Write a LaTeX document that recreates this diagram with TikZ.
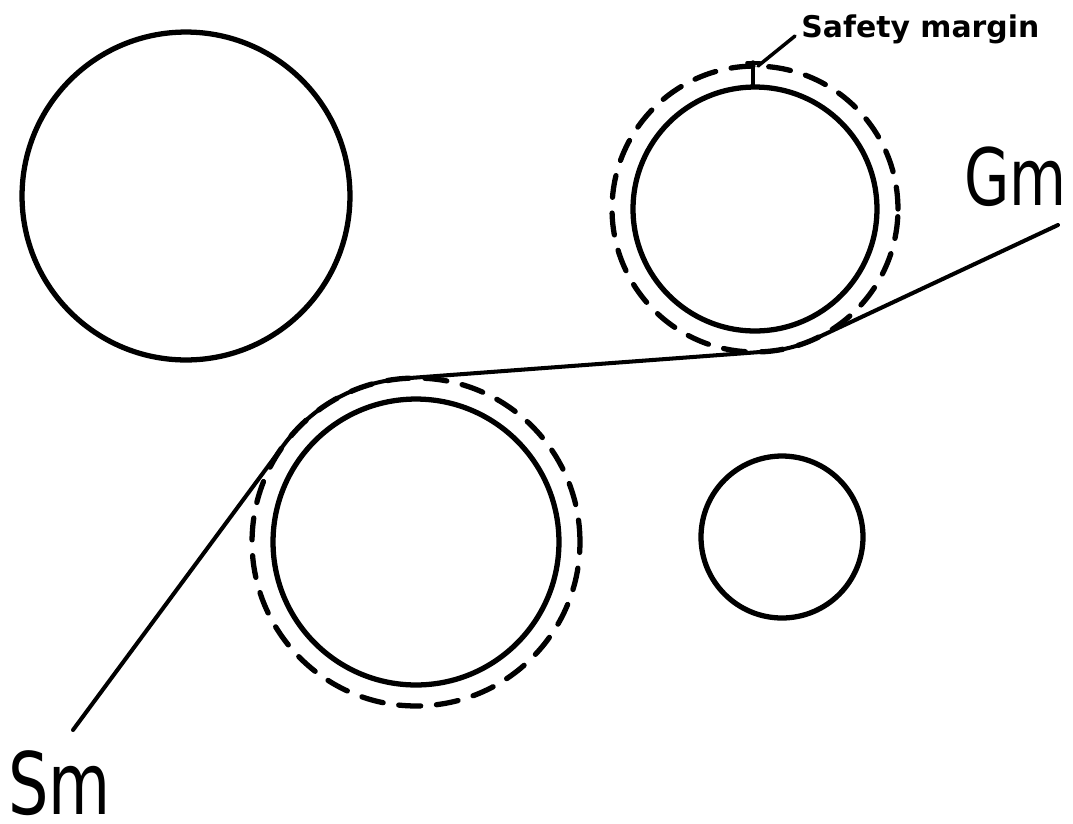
\documentclass[tikz,border=0pt]{standalone}
\usepackage{fontspec}
\newfontfamily\plotfont[FakeStretch=0.74]{DejaVu Sans}
\newfontfamily\labelfont{DejaVu Sans}
\tikzset{
  solidcirc/.style={line width=3pt},
  dashcirc/.style={line width=3pt, dash pattern=on 12.5pt off 9pt, line cap=round},
  belt/.style={line width=2.3pt, line cap=round, line join=round},
  leader/.style={line width=2pt, line cap=round},
  bigtext/.style={inner sep=0pt, anchor=base west},
}
\begin{document}
\begin{tikzpicture}[x=0.02cm, y=0.02cm]
\useasboundingbox (0,0) rectangle (1073,-823);
% circle centres
\coordinate (cTL) at (186,-196);
\coordinate (cTR) at (755,-209);
\coordinate (cBL) at (416,-542);
\coordinate (cSM) at (782,-537);
% circles
\draw[solidcirc] (cTL) circle[radius=3.28cm];
\draw[solidcirc] (cTR) circle[radius=2.44cm];
\draw[dashcirc]  (cTR) circle[radius=2.86cm];
\draw[solidcirc] (cBL) circle[radius=2.86cm];
\draw[dashcirc]  (cBL) circle[radius=3.28cm];
\draw[solidcirc] (cSM) circle[radius=1.62cm];
% path points
\coordinate (sm) at (73,-730);
\coordinate (t1) at (284.1,-444.5);
\coordinate (t3) at (765.6,-351.6);
\coordinate (gm) at (1058,-225);
\draw[belt] (sm) -- (t1) arc[start angle=143.53, end angle=94.24, radius=3.28cm]
  -- (t3) arc[start angle=-85.76, end angle=-64.9, radius=2.86cm] -- (gm);
% labels
\node[bigtext] (smlabel) at (8,-814) {\plotfont\fontsize{49}{49}\selectfont Sm};
\node[bigtext] (gmlabel) at (964,-205) {\plotfont\fontsize{45}{45}\selectfont Gm};
\node[inner sep=0pt, anchor=base west] (safety) at (801,-37) {\labelfont\bfseries\fontsize{17}{17}\selectfont Safety margin};
% safety margin marker
\coordinate (leadstart) at (795,-36);
\coordinate (leadend) at (758,-66);
\coordinate (ticktop) at (753,-62);
\coordinate (tickbot) at (753,-86);
\draw[leader] (leadstart) -- (leadend);
\draw[leader] (ticktop) -- (tickbot);
\draw[leader] (747,-63) -- (760,-63);
\end{tikzpicture}
\end{document}
